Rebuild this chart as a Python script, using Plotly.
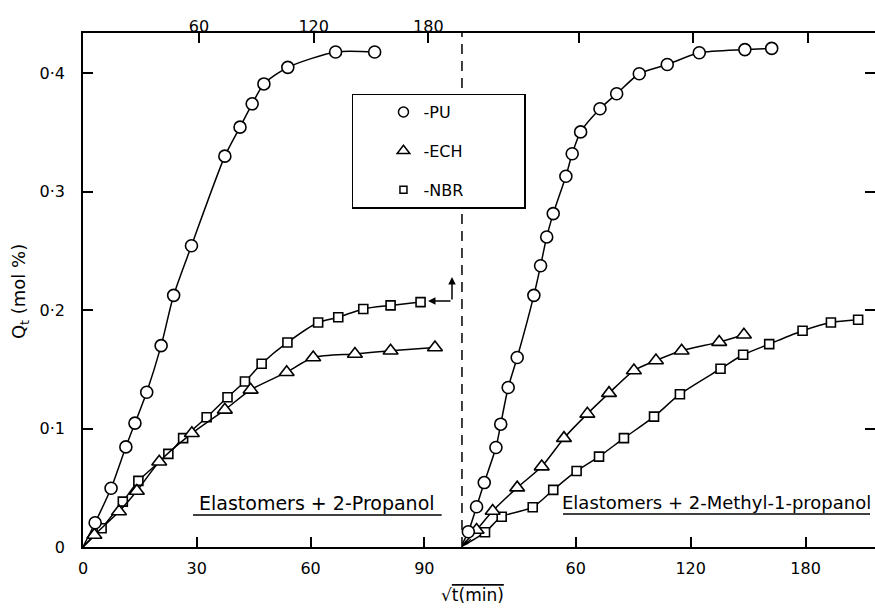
import plotly.graph_objects as go

# ---- Left panel: Elastomers + 2-Propanol (sqrt t, bottom scale) ----
pu_l_x = [0, 3.2, 7.4, 11.3, 13.7, 16.8, 20.6, 23.9, 28.6, 37.4, 41.4, 44.6, 47.7, 54.0, 66.6, 76.9]
pu_l_y = [0, 0.0205, 0.0496, 0.0845, 0.1046, 0.1307, 0.170, 0.2125, 0.2544, 0.330, 0.3545, 0.3742, 0.391, 0.405, 0.418, 0.418]
ech_l_x = [0, 3.0, 9.5, 14.2, 20.1, 28.7, 37.4, 44.2, 53.7, 60.7, 71.7, 81.1, 92.8]
ech_l_y = [0, 0.0101, 0.030, 0.0473, 0.072, 0.096, 0.1158, 0.1327, 0.1476, 0.160, 0.163, 0.1657, 0.1685]
nbr_l_x = [0, 4.9, 10.5, 14.6, 22.5, 26.4, 32.6, 38.1, 42.7, 47.1, 53.9, 62.0, 67.3, 73.9, 81.1, 89.0]
nbr_l_y = [0, 0.0158, 0.0383, 0.0558, 0.0786, 0.0919, 0.1096, 0.1265, 0.1397, 0.1547, 0.1727, 0.1896, 0.194, 0.201, 0.204, 0.2068]

# ---- Right panel: Elastomers + 2-Methyl-1-propanol ----
pu_r_x = [0, 4.0, 8.3, 12.3, 18.4, 20.9, 24.8, 29.5, 38.2, 41.7, 44.9, 48.3, 54.9, 58.2, 62.6, 72.7, 81.4, 93.2, 107.8, 124.5, 148.3, 162.3]
pu_r_y = [0, 0.0129, 0.034, 0.0544, 0.084, 0.1037, 0.1347, 0.160, 0.2125, 0.2375, 0.2618, 0.2815, 0.313, 0.332, 0.3505, 0.370, 0.3827, 0.3996, 0.4074, 0.4173, 0.420, 0.421]
ech_r_x = [0, 8.3, 16.7, 29.5, 42.3, 53.9, 66.1, 77.4, 90.4, 101.9, 115.3, 134.9, 147.8]
ech_r_y = [0, 0.0144, 0.0304, 0.0501, 0.0679, 0.0919, 0.1124, 0.1299, 0.149, 0.1575, 0.1657, 0.173, 0.1792]
nbr_r_x = [0, 12.7, 21.4, 37.6, 48.3, 60.5, 72.2, 85.2, 100.9, 114.4, 135.6, 147.4, 161.0, 178.4, 193.2, 207.4]
nbr_r_y = [0, 0.0124, 0.0256, 0.0336, 0.0482, 0.0642, 0.0763, 0.0919, 0.1101, 0.129, 0.1505, 0.1623, 0.1713, 0.1826, 0.1896, 0.1919]

y_tickvals = [0, 0.1, 0.2, 0.3, 0.4]
y_ticktext = ["0", "0·1", "0·2", "0·3", "0·4"]
x_left_ticks = [0, 30, 60, 90]
x_right_ticks = [60, 120, 180]
x_top_ticks = [60, 120, 180]

legend_names = ["-PU", "-ECH", "-NBR"]
symbols = ["circle", "triangle-up", "square"]
msizes = [12, 13, 9]

fig = go.Figure()


def add_series(x, y, sym, size, xa, ya):
    sizes = [0 if (a == 0 and b == 0) else size for a, b in zip(x, y)]
    ops = [0 if (a == 0 and b == 0) else 1 for a, b in zip(x, y)]
    fig.add_trace(go.Scatter(
        x=x, y=y, xaxis=xa, yaxis=ya, mode="lines+markers", showlegend=False,
        line=dict(color="black", width=1.5, shape="spline", smoothing=0.7),
        marker=dict(symbol=sym, size=sizes, opacity=ops, color="white",
                    line=dict(color="black", width=1.6)),
        cliponaxis=False, hoverinfo="skip"))


add_series(nbr_l_x, nbr_l_y, symbols[2], msizes[2], "x", "y")
add_series(ech_l_x, ech_l_y, symbols[1], msizes[1], "x", "y")
add_series(pu_l_x, pu_l_y, symbols[0], msizes[0], "x", "y")
add_series(nbr_r_x, nbr_r_y, symbols[2], msizes[2], "x2", "y2")
add_series(ech_r_x, ech_r_y, symbols[1], msizes[1], "x2", "y2")
add_series(pu_r_x, pu_r_y, symbols[0], msizes[0], "x2", "y2")

pad = "\u00a0" * 11
# legend entries (marker keys only)
for nm, sym, sz in zip(legend_names, symbols, msizes):
    fig.add_trace(go.Scatter(
        x=[None], y=[None], xaxis="x3", yaxis="y", mode="markers", name=nm + pad,
        legendgroup=nm, showlegend=True,
        marker=dict(symbol=sym, size=sz - 2, color="white", line=dict(color="black", width=1.5))))
fig.add_trace(go.Scatter(x=[None], y=[None], xaxis="x4", yaxis="y2", mode="markers",
                         showlegend=False, hoverinfo="skip"))

axis_common = dict(ticks="inside", ticklen=10, tickwidth=1.5, tickcolor="black",
                   showline=True, linecolor="black", linewidth=1.5,
                   showgrid=False, zeroline=False,
                   tickfont=dict(family="DejaVu Sans", size=16, color="black"))

split = 0.4785
fig.update_layout(
    width=875, height=613,
    margin=dict(l=83, r=0, t=33, b=66),
    paper_bgcolor="white", plot_bgcolor="white",
    font=dict(family="DejaVu Sans", color="black", size=16),
    xaxis=dict(domain=[0, split], range=[0, 99.92], tickvals=x_left_ticks,
               anchor="y", ticklabelstandoff=6, **axis_common),
    xaxis2=dict(domain=[split, 1], range=[0.68, 216.2], tickvals=x_right_ticks,
                anchor="y2", ticklabelstandoff=6, **axis_common),
    xaxis3=dict(overlaying="x", side="top", range=[-0.73, 197.6], tickvals=x_top_ticks,
                anchor="y", ticklabelstandoff=-7, **axis_common),
    xaxis4=dict(overlaying="x2", side="top", range=[-1.3, 215.1], tickvals=x_top_ticks,
                anchor="y2", showticklabels=False, **axis_common),
    yaxis=dict(domain=[0, 1], range=[0, 0.434], tickvals=y_tickvals, ticktext=y_ticktext,
               anchor="x", ticklabelstandoff=13, **axis_common),
    yaxis2=dict(domain=[0, 1], range=[0, 0.434], tickvals=y_tickvals, anchor="x2",
                side="right", showticklabels=False,
                **{k: v for k, v in axis_common.items() if k != "showline"}, showline=False),
    legend=dict(x=0.3396, y=0.882, xanchor="left", yanchor="top",
                bgcolor="white", bordercolor="black", borderwidth=1.5,
                traceorder="grouped", tracegroupgap=15, indentation=30,
                font=dict(family="DejaVu Sans", size=16, color="black")),
    showlegend=True,
    shapes=[
        dict(type="line", xref="paper", yref="paper", x0=split, x1=split, y0=0, y1=1,
             line=dict(color="black", width=1.5, dash="10px,7px")),
        dict(type="line", xref="paper", yref="paper", x0=0.1389, x1=0.4529, y0=0.0623, y1=0.0623,
             line=dict(color="black", width=1.5)),
        dict(type="line", xref="paper", yref="paper", x0=0.6061, x1=0.9937, y0=0.0642, y1=0.0642,
             line=dict(color="black", width=1.5)),
    ],
    annotations=[
        dict(text="Elastomers + 2-Propanol", xref="paper", yref="paper", x=0.2955, y=0.0856,
             xanchor="center", yanchor="middle", showarrow=False, font=dict(size=19)),
        dict(text="Elastomers + 2-Methyl-1-propanol", xref="paper", yref="paper", x=0.7999, y=0.0875,
             xanchor="center", yanchor="middle", showarrow=False, font=dict(size=18)),
        dict(text='√<span style="text-decoration:overline">t(min)</span>', xref="paper", yref="paper",
             x=0.4924, y=-0.093, xanchor="center", yanchor="middle", showarrow=False, font=dict(size=17)),
        dict(text="Q<sub>t</sub> (mol %)", xref="paper", yref="paper", x=-0.0795, y=0.496,
             xanchor="center", yanchor="middle", textangle=-90, showarrow=False, font=dict(size=18)),
        dict(text="", xref="paper", yref="paper", x=0.4356, y=0.4786, ax=24, ay=0,
             showarrow=True, arrowhead=2, arrowsize=1, arrowwidth=1.5, arrowcolor="black", standoff=0),
        dict(text="", xref="paper", yref="paper", x=0.4659, y=0.5253, ax=0, ay=24,
             showarrow=True, arrowhead=2, arrowsize=1, arrowwidth=1.5, arrowcolor="black", standoff=0),
        dict(text="", xref="paper", yref="paper", x=0.4804, y=0.0039, ax=9, ay=-7,
             showarrow=True, arrowhead=2, arrowsize=0.8, arrowwidth=1.2, arrowcolor="black", standoff=0),
    ],
)

fig.write_html("out.html")
